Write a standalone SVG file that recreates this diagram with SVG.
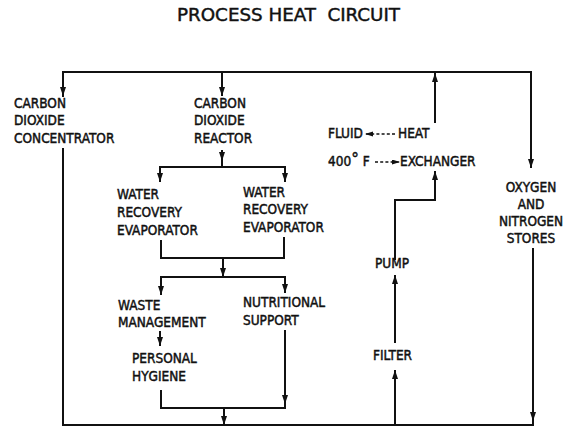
<svg xmlns="http://www.w3.org/2000/svg" width="572" height="429" viewBox="0 0 572 429">
<style>
text{font-family:"DejaVu Sans Condensed","DejaVu Sans","Liberation Sans",sans-serif;font-stretch:condensed;font-size:13.5px;fill:#111;stroke:#111;stroke-width:0.45px}
.title{font-size:17.5px;stroke-width:0.4px}
.ln{fill:none;stroke:#111;stroke-width:2}
.ar{fill:none;stroke:#111;stroke-width:2;marker-end:url(#ah)}
.da{fill:none;stroke:#111;stroke-width:1.3;stroke-dasharray:3 2.2;marker-end:url(#ahs)}
</style>
<defs>
<marker id="ah" markerUnits="userSpaceOnUse" markerWidth="10" markerHeight="8" refX="9" refY="3" orient="auto"><path d="M0,0 L9,3 L0,6 z" fill="#111"/></marker>
<marker id="ahs" markerUnits="userSpaceOnUse" markerWidth="9" markerHeight="6" refX="8" refY="2.5" orient="auto"><path d="M0,0 L8,2.5 L0,5 z" fill="#111"/></marker>
</defs>
<text class="title" x="177" y="21" textLength="223" lengthAdjust="spacingAndGlyphs" xml:space="preserve">PROCESS HEAT  CIRCUIT</text>
<g id="connectors">
<path class="ln" d="M63,97 V72 H531 V100"/>
<path class="ar" d="M63,80 V96"/>
<path class="ar" d="M222,72 V96"/>
<path class="ar" d="M531,90 V168"/>
<path class="ln" d="M63,148 V425 H533 V248"/>
<path class="ar" d="M533,400 V421"/>
<path class="ln" d="M222,150 V167"/>
<path class="ar" d="M222,150 V161"/>
<path class="ln" d="M160,182 V167 H285 V182"/>
<path class="ar" d="M160,170 V182"/>
<path class="ar" d="M285,170 V182"/>
<path class="ln" d="M161,240 V258 H284 V237"/>
<path class="ar" d="M223,258 V277"/>
<path class="ln" d="M161,295 V277 H285 V293"/>
<path class="ar" d="M161,280 V295"/>
<path class="ar" d="M285,280 V293"/>
<path class="ar" d="M160,331 V346"/>
<path class="ln" d="M161,390 V408 H285 V330"/>
<path class="ar" d="M285,380 V404"/>
<path class="ar" d="M224,408 V425"/>
<path class="ar" d="M395,425 V370"/>
<path class="ar" d="M395,343 V275"/>
<path class="ar" d="M395,260 V200 H435 V171"/>
<path class="ar" d="M435,123 V73"/>
<path class="da" d="M395,134 H365"/>
<path class="da" d="M375,162 H400"/>
</g>
<g id="co2-concentrator"><text x="14" y="108">CARBON</text><text x="14" y="125">DIOXIDE</text><text x="14" y="143">CONCENTRATOR</text></g>
<g id="co2-reactor"><text x="194" y="108">CARBON</text><text x="194" y="125">DIOXIDE</text><text x="194" y="143">REACTOR</text></g>
<g id="water-evap-1"><text x="117" y="199">WATER</text><text x="117" y="217">RECOVERY</text><text x="117" y="235">EVAPORATOR</text></g>
<g id="water-evap-2"><text x="243" y="197">WATER</text><text x="243" y="214">RECOVERY</text><text x="243" y="232">EVAPORATOR</text></g>
<g id="waste-management"><text x="118" y="310">WASTE</text><text x="118" y="327">MANAGEMENT</text></g>
<g id="nutritional-support"><text x="243" y="307">NUTRITIONAL</text><text x="243" y="325">SUPPORT</text></g>
<g id="personal-hygiene"><text x="132" y="363">PERSONAL</text><text x="132" y="381">HYGIENE</text></g>
<g id="heat-exchanger"><text x="328" y="138">FLUID</text><text x="398" y="138">HEAT</text><text x="328" y="166">400<tspan font-size="17" dy="-1">°</tspan><tspan dy="1"> F</tspan></text><text x="400" y="166">EXCHANGER</text></g>
<g id="pump"><text x="375" y="268">PUMP</text></g>
<g id="filter"><text x="373" y="360">FILTER</text></g>
<g id="o2-n2-stores" text-anchor="middle"><text x="531" y="192">OXYGEN</text><text x="531" y="209">AND</text><text x="531" y="226">NITROGEN</text><text x="531" y="243">STORES</text></g>
</svg>
